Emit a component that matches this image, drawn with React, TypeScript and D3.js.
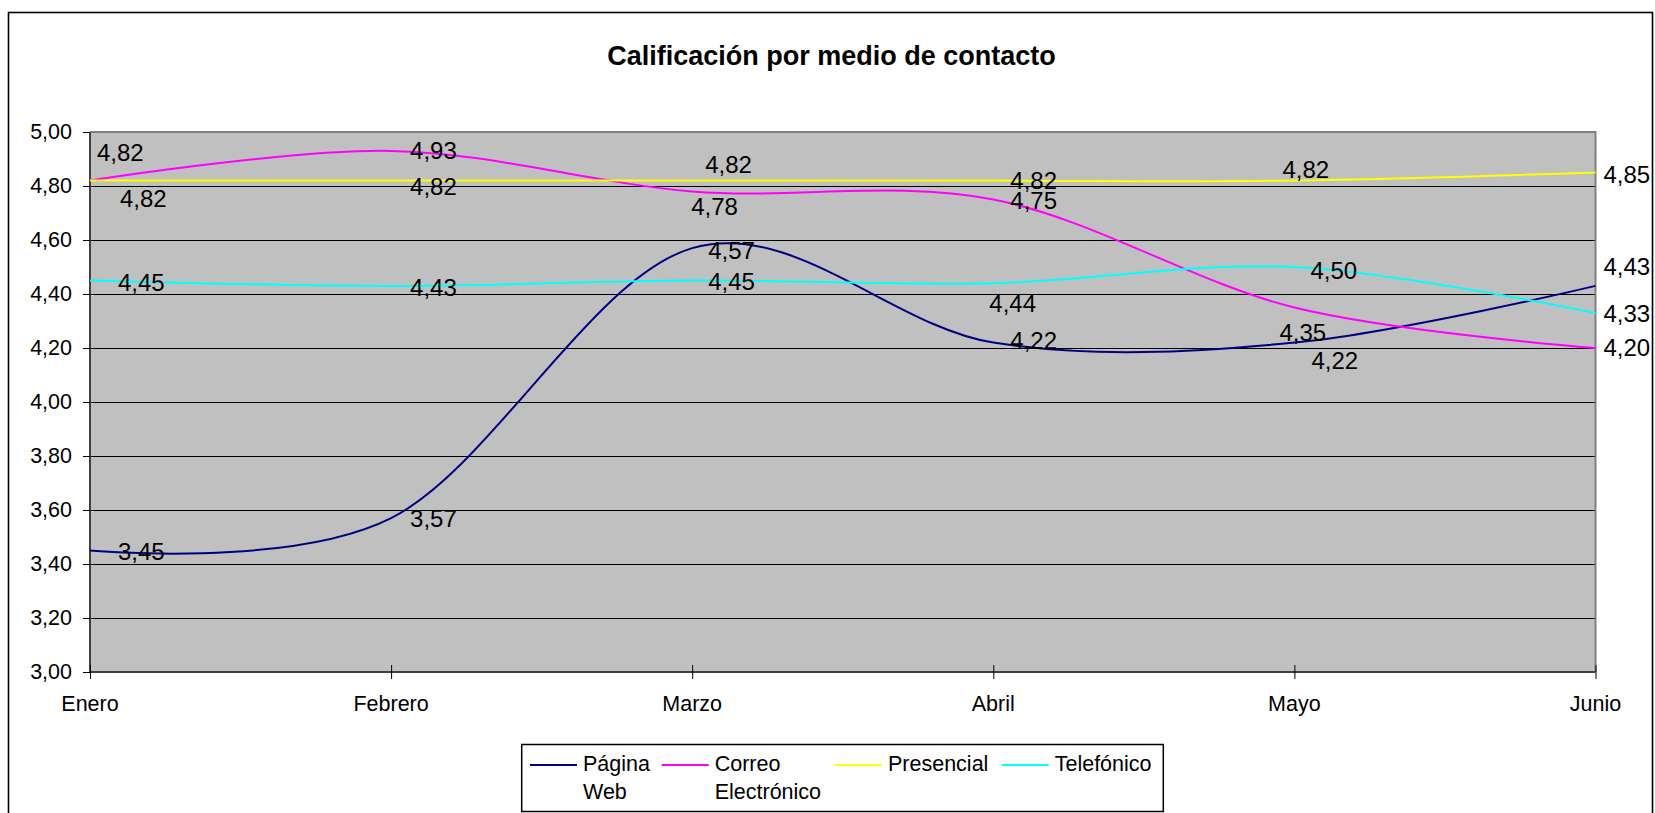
import React from "react";
import * as d3 from "d3";

// Months on the category axis
const months = ["Enero", "Febrero", "Marzo", "Abril", "Mayo", "Junio"];

// Average rating per contact channel
const paginaWeb = [3.45, 3.57, 4.57, 4.22, 4.22, 4.43];
const correoElectronico = [4.82, 4.93, 4.78, 4.75, 4.35, 4.2];
const presencial = [4.82, 4.82, 4.82, 4.82, 4.82, 4.85];
const telefonico = [4.45, 4.43, 4.45, 4.44, 4.5, 4.33];

const seriesNames = ["Página Web", "Correo Electrónico", "Presencial", "Telefónico"];
const seriesValues = [paginaWeb, correoElectronico, presencial, telefonico];

// Value axis ticks
const yTicks = [3.0, 3.2, 3.4, 3.6, 3.8, 4.0, 4.2, 4.4, 4.6, 4.8, 5.0];

// Styling and label placement (kept apart from the data)
const seriesColors = ["#000080", "#FF00FF", "#FFFF00", "#00FFFF"];
// [dx, dy] of each value label relative to its point: text left edge / vertical centre
const labelNudges: [number, number][][] = [
  [[28, 1], [19, 0], [16, 2], [17, -2], [17, 18], [8, -19]],
  [[7, -28], [19, 0], [-1, 15], [17, 1], [-15, 25], [8, -1]],
  [[30, 18], [19, 6], [13, -16], [17, 0], [-12, -11], [8, 1.5]],
  [[28, 2], [19, 2], [16, 1], [-4, 20], [16, 3], [8, 1]],
];
// Legend entries: line start x and row layout
const legendSlots = [530, 661.7, 835, 1001.7];

const W = 1655;
const H = 813;
const plot = { left: 90, right: 1595.5, top: 132, bottom: 672 };
const FONT = "'Liberation Sans', Arial, Helvetica, sans-serif";

const esLocale = d3.formatLocale({
  decimal: ",",
  thousands: ".",
  grouping: [3],
  currency: ["", "€"],
});
const fmt = esLocale.format(".2f");

export default function App() {
  const x = d3
    .scalePoint<string>()
    .domain(months)
    .range([plot.left, plot.right]);
  const y = d3.scaleLinear().domain([3, 5]).range([plot.bottom, plot.top]);

  const line = d3
    .line<number>()
    .x((_, i) => x(months[i]) as number)
    .y((d) => y(d))
    .curve(d3.curveCardinal.tension(0));

  const labelSize = 24;
  const axisSize = 21.5;

  return (
    <svg
      width={W}
      height={H}
      style={{ position: "absolute", left: 0, top: 0, display: "block" }}
      fontFamily={FONT}
    >
      <rect x={0} y={0} width={W} height={H} fill="#ffffff" />
      {/* chart border */}
      <rect
        x={8.5}
        y={12.5}
        width={1644}
        height={840}
        fill="none"
        stroke="#000"
        strokeWidth={1.6}
      />

      <text
        x={831.5}
        y={65}
        textAnchor="middle"
        fontWeight="bold"
        fontSize={27}
        fill="#000"
      >
        Calificación por medio de contacto
      </text>

      {/* plot area */}
      <rect
        x={plot.left}
        y={plot.top}
        width={plot.right - plot.left}
        height={plot.bottom - plot.top}
        fill="#C0C0C0"
      />
      {yTicks
        .filter((t) => t > 3 && t < 5)
        .map((t) => (
          <line
            key={"g" + t}
            x1={plot.left}
            x2={plot.right}
            y1={Math.round(y(t)) + 0.5}
            y2={Math.round(y(t)) + 0.5}
            stroke="#000"
            strokeWidth={1}
          />
        ))}
      {/* plot area frame (top and right) */}
      <path
        d={`M${plot.left},${plot.top} H${plot.right} V${plot.bottom}`}
        fill="none"
        stroke="#808080"
        strokeWidth={2}
      />

      {/* value axis */}
      <line
        x1={plot.left}
        x2={plot.left}
        y1={plot.top}
        y2={plot.bottom}
        stroke="#404040"
        strokeWidth={2}
      />
      {yTicks.map((t) => (
        <g key={"y" + t}>
          <line
            x1={plot.left - 7}
            x2={plot.left}
            y1={Math.round(y(t)) + 0.5}
            y2={Math.round(y(t)) + 0.5}
            stroke="#000"
            strokeWidth={1}
          />
          <text
            x={72}
            y={y(t) - 1 + axisSize * 0.358}
            textAnchor="end"
            fontSize={axisSize}
            fill="#000"
          >
            {fmt(t)}
          </text>
        </g>
      ))}

      {/* category axis */}
      <line
        x1={plot.left}
        x2={plot.right}
        y1={plot.bottom}
        y2={plot.bottom}
        stroke="#404040"
        strokeWidth={2}
      />
      {months.map((m) => (
        <g key={m}>
          <line
            x1={(x(m) as number) + 0.5}
            x2={(x(m) as number) + 0.5}
            y1={plot.bottom - 7}
            y2={plot.bottom + 7}
            stroke="#000"
            strokeWidth={1}
          />
          <text
            x={x(m) as number}
            y={711}
            textAnchor="middle"
            fontSize={axisSize}
            fill="#000"
          >
            {m}
          </text>
        </g>
      ))}

      {/* series lines */}
      {seriesValues.map((vals, s) => (
        <path
          key={"s" + s}
          d={line(vals) || ""}
          fill="none"
          stroke={seriesColors[s]}
          strokeWidth={2}
        />
      ))}

      {/* value labels */}
      {seriesValues.map((vals, s) =>
        vals.map((v, i) => {
          const [dx, dy] = labelNudges[s][i];
          return (
            <text
              key={`l${s}-${i}`}
              x={(x(months[i]) as number) + dx}
              y={y(v) + dy + labelSize * 0.358}
              fontSize={labelSize}
              fill="#000"
            >
              {fmt(v)}
            </text>
          );
        })
      )}

      {/* legend */}
      <rect
        x={521.7}
        y={744.5}
        width={641.6}
        height={67}
        fill="#fff"
        stroke="#000"
        strokeWidth={1.5}
      />
      {seriesNames.map((name, s) => {
        const lx = legendSlots[s];
        const words = name.split(" ");
        return (
          <g key={"lg" + s}>
            <line
              x1={lx}
              x2={lx + 47}
              y1={765}
              y2={765}
              stroke={seriesColors[s]}
              strokeWidth={2}
            />
            <text x={lx + 53} y={771} fontSize={axisSize} fill="#000">
              {words.map((w, k) => (
                <tspan key={k} x={lx + 53} dy={k === 0 ? 0 : 27.5}>
                  {w}
                </tspan>
              ))}
            </text>
          </g>
        );
      })}
    </svg>
  );
}
